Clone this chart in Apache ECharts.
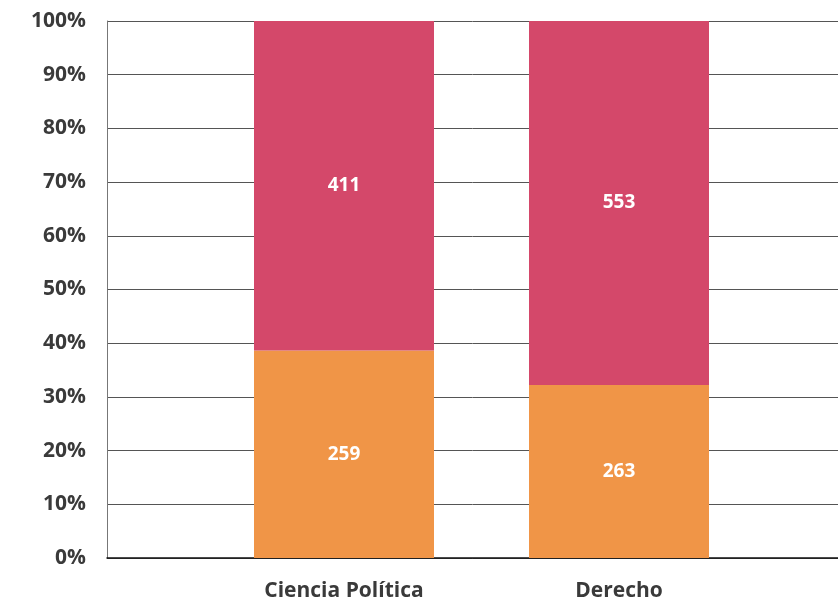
<!DOCTYPE html>
<html>
<head>
<meta charset="utf-8">
<script src="https://cdn.jsdelivr.net/npm/echarts@6/dist/echarts.min.js"></script>
<style>
  html, body { margin: 0; padding: 0; background: #fff; }
  #chart { width: 838px; height: 602px; }
</style>
</head>
<body>
<div id="chart"></div>
<script>
const categories = ['Ciencia Política', 'Derecho']
const orangeValues = [259, 263]
const redValues = [411, 553]
const yTicks = [0, 10, 20, 30, 40, 50, 60, 70, 80, 90, 100]

const font = '"Open Sans", Lato, sans-serif'

// share of each segment in the 100% bar
const totals = categories.map((c, i) => orangeValues[i] + redValues[i])
const toPct = (arr) => arr.map((v, i) => ({ value: v / totals[i] * 100, raw: v }))

const labelStyle = {
  show: true,
  position: 'inside',
  color: '#fff',
  fontFamily: font,
  fontWeight: 'bold',
  fontSize: 19,
  formatter: p => p.data.raw
}

const chart = echarts.init(document.getElementById('chart'))
chart.setOption({
  animation: false,
  grid: [
    { left: 107, right: 0, top: 21, bottom: 44 },
    { left: 206.5, right: 81.5, top: 21, bottom: 44 }
  ],
  xAxis: [
    {
      gridIndex: 0, type: 'category', data: [''],
      axisLine: { lineStyle: { color: '#111', width: 1.5 } },
      axisTick: { show: false }, axisLabel: { show: false }
    },
    {
      gridIndex: 1, type: 'category', data: categories,
      axisLine: { show: false }, axisTick: { show: false },
      axisLabel: { margin: 23, color: '#3a3a3a', fontFamily: font, fontWeight: 'bold', fontSize: 21 }
    }
  ],
  yAxis: [
    {
      gridIndex: 0, type: 'value', min: 0, max: 100, interval: 10,
      axisLine: { show: true, lineStyle: { color: '#777' } },
      axisTick: { show: false },
      splitLine: { lineStyle: { color: '#555' } },
      axisLabel: {
        margin: 21, color: '#3a3a3a', fontFamily: font, fontWeight: 'bold', fontSize: 21,
        formatter: v => yTicks.includes(v) ? v + '%' : ''
      }
    },
    {
      gridIndex: 1, type: 'value', min: 0, max: 100, show: false
    }
  ],
  series: [
    {
      type: 'bar', stack: 'total', xAxisIndex: 1, yAxisIndex: 1,
      barWidth: 180, data: toPct(orangeValues),
      itemStyle: { color: '#F09547' }, label: labelStyle
    },
    {
      type: 'bar', stack: 'total', xAxisIndex: 1, yAxisIndex: 1,
      barWidth: 180, data: toPct(redValues),
      itemStyle: { color: '#D4486A' }, label: labelStyle
    }
  ]
})
</script>
</body>
</html>
